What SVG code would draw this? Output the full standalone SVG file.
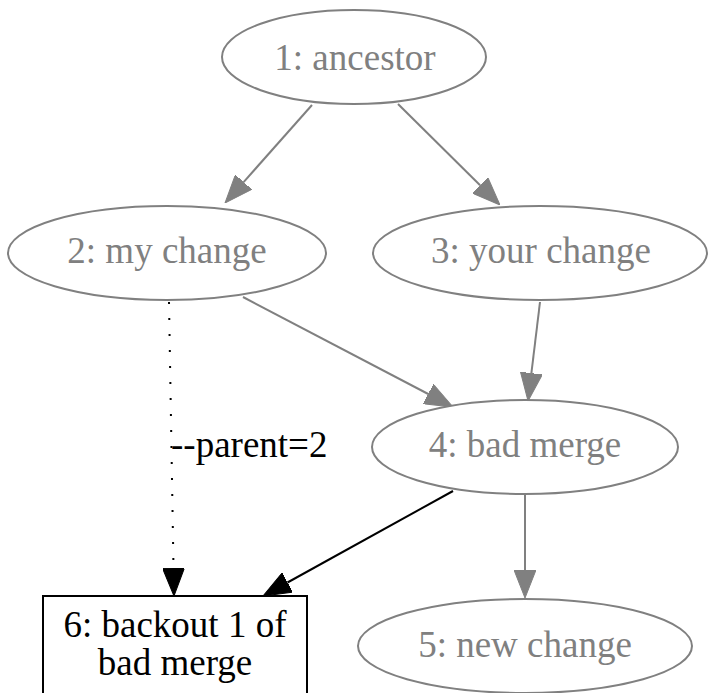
<svg xmlns="http://www.w3.org/2000/svg" width="711" height="693" viewBox="0 0 711 693">
<style>
.g ellipse{fill:#fff;stroke:#808080;stroke-width:2}
.g text{font-family:"Liberation Serif","Times New Roman",serif;font-size:37px;fill:#808080;text-anchor:middle}
.b rect{fill:#fff;stroke:#000;stroke-width:2}
.b text{font-family:"Liberation Serif","Times New Roman",serif;font-size:37px;fill:#000;text-anchor:middle}
.eg{stroke:#808080;stroke-width:2;fill:none;marker-end:url(#ag)}
.eb{stroke:#000;stroke-width:2;fill:none;marker-end:url(#ab)}
.lbl{font-family:"Liberation Serif","Times New Roman",serif;font-size:37px;fill:#000}
</style>
<defs>
<marker id="ag" viewBox="0 0 28 22" refX="0" refY="11" markerWidth="28" markerHeight="22" markerUnits="userSpaceOnUse" orient="auto"><path d="M0,0 L28,11 L0,22 z" fill="#808080" stroke="#808080" stroke-width="1"/></marker>
<marker id="ab" viewBox="0 0 28 22" refX="0" refY="11" markerWidth="28" markerHeight="22" markerUnits="userSpaceOnUse" orient="auto"><path d="M0,0 L28,11 L0,22 z" fill="#000" stroke="#000" stroke-width="1"/></marker>
</defs>
<rect width="711" height="693" fill="#fff"/>
<g id="edges">
<line class="eg" x1="312" y1="105" x2="243.6" y2="182.1"/>
<line class="eg" x1="398" y1="104" x2="480.1" y2="185.3"/>
<line class="eg" x1="243" y1="297" x2="428.2" y2="394"/>
<line class="eg" x1="540" y1="302" x2="531.4" y2="373.2"/>
<line class="eb" x1="169" y1="302" x2="173.5" y2="568" stroke-dasharray="2,14"/>
<text class="lbl" x="171" y="457">--parent=2</text>
<line class="eb" x1="453" y1="491" x2="287.5" y2="582.5"/>
<line class="eg" x1="525" y1="494" x2="525" y2="570"/>
</g>
<g id="n1" class="g"><ellipse cx="354" cy="57" rx="132" ry="47"/><text x="355" y="70">1: ancestor</text></g>
<g id="n2" class="g"><ellipse cx="167" cy="253" rx="159" ry="47"/><text x="167" y="263">2: my change</text></g>
<g id="n3" class="g"><ellipse cx="540" cy="253" rx="167" ry="47"/><text x="541" y="263">3: your change</text></g>
<g id="n4" class="g"><ellipse cx="525" cy="447" rx="153" ry="47"/><text x="525" y="457">4: bad merge</text></g>
<g id="n5" class="g"><ellipse cx="525" cy="646" rx="167" ry="47"/><text x="525" y="657">5: new change</text></g>
<g id="n6" class="b"><rect x="43" y="596" width="264" height="110"/><text x="175" y="637">6: backout 1 of</text><text x="175" y="675">bad merge</text></g>
</svg>
